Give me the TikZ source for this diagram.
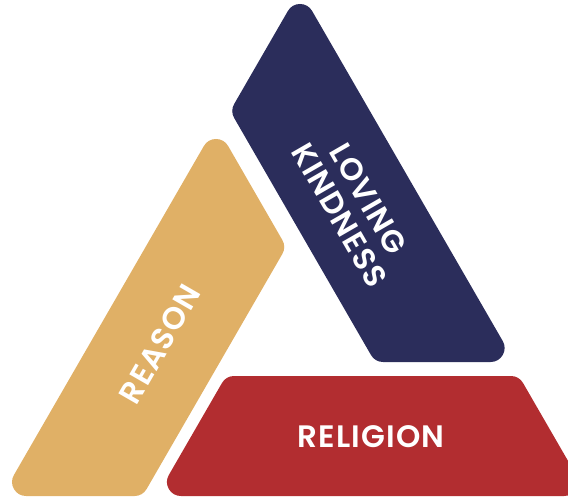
\documentclass[tikz,border=0pt]{standalone}
\usepackage{fontspec}
\setmainfont{Poppins}[BoldFont={Poppins SemiBold},LetterSpace=4]
\definecolor{navyband}{RGB}{43,45,91}
\definecolor{goldband}{RGB}{224,176,102}
\definecolor{redband}{RGB}{178,45,48}
\begin{document}
\begin{tikzpicture}[x=1pt,y=-1pt,
  band/.style={line width=28pt,line join=round},
  bandtext/.style={text=white,font=\bfseries\fontsize{31}{33}\selectfont,align=center,inner sep=0pt}]
\useasboundingbox (0,0) rectangle (568,497);
\clip (0,0) rectangle (568,497);
% navy band (inset polygon, stroked with round joins)
\filldraw[band,fill=navyband,draw=navyband]
  (300,18) -- (246.3,111) -- (383.1,348) -- (490.6,348) -- cycle;
% gold band
\filldraw[band,fill=goldband,draw=goldband]
  (216,153) -- (270.2,247) -- (134.5,482) -- (26.05,482) -- cycle;
% red band
\filldraw[band,fill=redband,draw=redband]
  (234.1,390) -- (510.9,390) -- (564.05,482) -- (180.95,482) -- cycle;
\node[bandtext,rotate=-60] (loving) at (354,207) {LOVING\\KINDNESS};
\node[bandtext,rotate=60] (reason) at (160,344) {REASON};
\node[bandtext] (religion) at (371,437) {RELIGION};
\end{tikzpicture}
\end{document}
